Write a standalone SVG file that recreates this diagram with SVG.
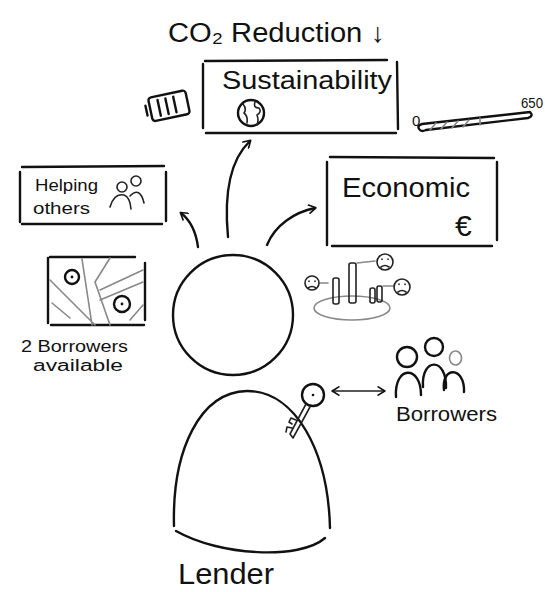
<svg xmlns="http://www.w3.org/2000/svg" width="545" height="592" viewBox="0 0 545 592">
  <style>
    .ink { fill: none; stroke: #111; stroke-width: 2.4; stroke-linecap: round; stroke-linejoin: round; }
    .thin { fill: none; stroke: #222; stroke-width: 1.6; stroke-linecap: round; stroke-linejoin: round; }
    .grey { fill: none; stroke: #888; stroke-width: 1.6; stroke-linecap: round; stroke-linejoin: round; }
    .hand { font-family: "Liberation Sans", "DejaVu Sans", sans-serif; fill: #111; }
  </style>
  <defs>
    <marker id="chev" viewBox="0 0 12 12" refX="9" refY="6" markerWidth="10" markerHeight="10" orient="auto" markerUnits="userSpaceOnUse">
      <path d="M2,1 L10,6 L2,11" fill="none" stroke="#111" stroke-width="2" stroke-linecap="round" stroke-linejoin="round"/>
    </marker>
    <marker id="chevStart" viewBox="0 0 12 12" refX="3" refY="6" markerWidth="10" markerHeight="10" orient="auto" markerUnits="userSpaceOnUse">
      <path d="M10,1 L2,6 L10,11" fill="none" stroke="#111" stroke-width="2" stroke-linecap="round" stroke-linejoin="round"/>
    </marker>
  </defs>

  <rect width="545" height="592" fill="#fff"/>

  <!-- headline -->
  <g id="title">
    <text class="hand" x="168" y="42" font-size="27" textLength="217" lengthAdjust="spacingAndGlyphs">CO₂ Reduction ↓</text>
  </g>

  <!-- sustainability box with battery and globe -->
  <g id="sustainability">
    <path class="ink" d="M205,61 L387,60 M203,64 L203,128 M397,62 L398,129 M206,133 L396,133"/>
    <text class="hand" x="222" y="89" font-size="25" textLength="170" lengthAdjust="spacingAndGlyphs">Sustainability</text>
    <circle class="ink" cx="251" cy="113" r="13"/>
    <path class="thin" d="M243,104 q4,5 1,9 q4,3 3,10 M255,102 q-2,6 4,6 q3,4 -2,7 q2,5 0,10"/>
  </g>
  <g id="battery" transform="rotate(-12 168 106)">
    <rect class="ink" x="150" y="94" width="38" height="24" rx="3"/>
    <path class="ink" d="M146,101 L146,111 M159,98 L159,114 M167,98 L167,114 M175,98 L175,114"/>
  </g>

  <!-- progress gauge 0..650 -->
  <g id="gauge">
    <text class="hand" x="412" y="126" font-size="15">0</text>
    <text class="hand" x="521" y="108" font-size="15" textLength="22" lengthAdjust="spacingAndGlyphs">650</text>
    <path class="ink" d="M426,130 L528,118 q6,-2 2,-6 L422,124 q-6,2 -2,6 q2,2 6,0"/>
    <path class="grey" d="M430,130 l6,-7 M441,129 l6,-7 M452,128 l6,-7 M463,127 l6,-7 M480,125 l0,-7"/>
  </g>

  <!-- helping others box -->
  <g id="helping">
    <path class="ink" d="M22,167 L164,166 M20,172 L20,222 M166,172 L166,221 M22,224 L162,224"/>
    <text class="hand" x="35" y="191" font-size="16" textLength="63" lengthAdjust="spacingAndGlyphs">Helping</text>
    <text class="hand" x="33" y="214" font-size="16" textLength="57" lengthAdjust="spacingAndGlyphs">others</text>
    <circle class="thin" cx="122" cy="187" r="5"/>
    <circle class="thin" cx="136" cy="181" r="5"/>
    <path class="thin" d="M110,207 q4,-14 14,-12 q6,2 7,14 M130,196 q10,-10 14,7"/>
  </g>

  <!-- economic box -->
  <g id="economic">
    <path class="ink" d="M330,157 L494,158 M327,162 L327,245 M497,162 L497,240 M332,246 L492,246"/>
    <text class="hand" x="342" y="197" font-size="27" textLength="128" lengthAdjust="spacingAndGlyphs">Economic</text>
    <text class="hand" x="455" y="236" font-size="30">€</text>
  </g>

  <!-- bar chart with unhappy faces -->
  <g id="chart">
    <ellipse class="grey" cx="352" cy="308" rx="38" ry="12"/>
    <rect class="thin" x="333" y="278" width="6" height="26" rx="2"/>
    <rect class="thin" x="349" y="263" width="7" height="40" rx="2"/>
    <rect class="thin" x="370" y="288" width="5" height="15" rx="2"/>
    <rect class="thin" x="377" y="286" width="5" height="16" rx="2"/>
    <path class="grey" d="M320,283 l8,0 M357,263 l18,-2 M383,286 l10,0"/>
    <circle class="thin" cx="312" cy="283" r="7"/>
    <circle class="thin" cx="385" cy="262" r="8"/>
    <circle class="thin" cx="402" cy="287" r="8"/>
    <path class="thin" d="M309,281 l0,0.5 M315,281 l0,0.5 M308,288 q4,-3 8,0 M382,259 l0,0.5 M388,259 l0,0.5 M381,267 q4,-3 8,0 M399,284 l0,0.5 M405,284 l0,0.5 M398,292 q4,-3 8,0"/>
  </g>

  <!-- map with two borrowers -->
  <g id="map">
    <path class="ink" d="M48,258 L48,323 M50,257 L135,257 M145,263 L145,320 M51,325 L144,325"/>
    <path class="grey" d="M50,280 L95,325 M52,303 L70,318 M82,259 L92,325 M100,290 L143,270 M100,300 L143,282 M110,258 L95,282 M95,282 L110,325 M130,320 L143,305"/>
    <circle class="ink" cx="72" cy="277" r="7"/>
    <circle cx="72" cy="277" r="1.4" fill="#111"/>
    <circle class="ink" cx="122" cy="304" r="8"/>
    <circle cx="122" cy="304" r="1.4" fill="#111"/>
    <text class="hand" x="21" y="352" font-size="16" textLength="107" lengthAdjust="spacingAndGlyphs">2 Borrowers</text>
    <text class="hand" x="33" y="371" font-size="16" textLength="90" lengthAdjust="spacingAndGlyphs">available</text>
  </g>

  <!-- lender: head, body and key -->
  <g id="lender">
    <circle class="ink" cx="233" cy="315" r="60"/>
    <path class="ink" d="M174,526 C172,450 200,392 247,391 C295,391 328,450 330,528"/>
    <path class="ink" d="M176,531 C220,556 300,560 325,538"/>
    <text class="hand" x="178" y="584" font-size="30" textLength="96" lengthAdjust="spacingAndGlyphs">Lender</text>
  </g>
  <g id="key">
    <circle class="ink" cx="313" cy="395" r="11"/>
    <circle cx="313" cy="395" r="1.3" fill="#111"/>
    <path class="thin" d="M306,404 L290,434 L293,438 L310,407 M296,420 l-5,-2 l-2,4 l3,2 M292,428 l-5,-1 l-1,5"/>
  </g>

  <!-- borrowers group -->
  <g id="borrowers">
    <circle class="ink" cx="407" cy="357" r="10"/>
    <circle class="ink" cx="434" cy="347" r="9"/>
    <path class="grey" d="M456,351 a6,7 0 1,1 -1,14 a6,7 0 0,1 1,-14" stroke-width="2"/>
    <path class="ink" d="M396,397 C394,365 421,365 421,395 M423,387 C421,357 447,357 446,388"/>
    <path class="ink" d="M444,390 C441,366 465,366 464,392"/>
    <text class="hand" x="396" y="421" font-size="20" textLength="101" lengthAdjust="spacingAndGlyphs">Borrowers</text>
  </g>

  <!-- connectors -->
  <g id="connectors">
    <path class="ink" d="M228,237 C224,195 230,160 250,141" marker-end="url(#chev)"/>
    <path class="ink" d="M198,247 C196,232 190,220 181,213" marker-end="url(#chev)"/>
    <path class="ink" d="M267,245 C275,225 295,212 315,208" marker-end="url(#chev)"/>
    <path class="thin" d="M333,391 L384,391" stroke-width="2" marker-start="url(#chevStart)" marker-end="url(#chev)"/>
  </g>
</svg>
